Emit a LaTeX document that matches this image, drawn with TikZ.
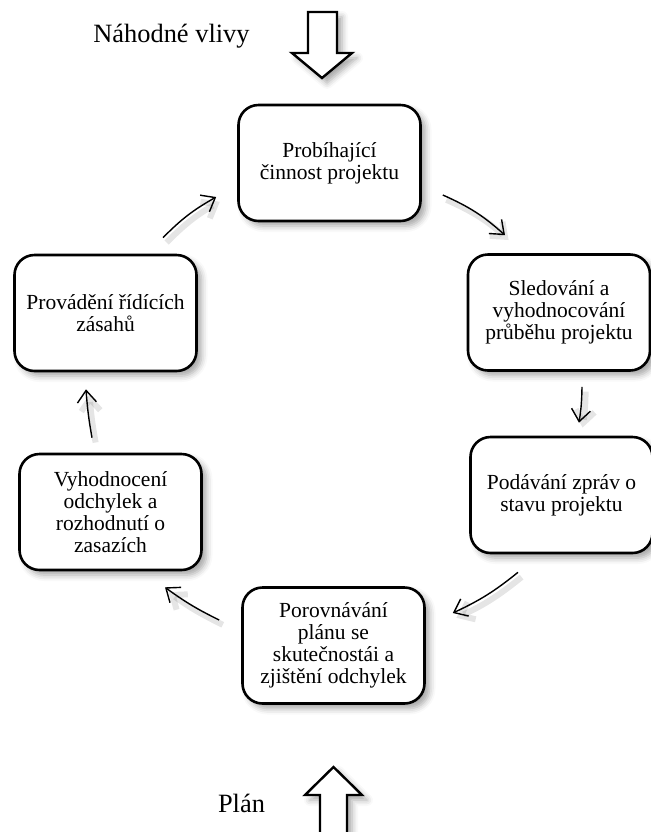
\documentclass[tikz,border=0pt]{standalone}
\usepackage{fontspec}
\setmainfont{Liberation Serif}
\usetikzlibrary{arrows.meta,shadows.blur}
\begin{document}
\begin{tikzpicture}[x=0.5pt,y=-0.5pt,
  softshadow/.style={blur shadow={shadow xshift=2.5pt,shadow yshift=-2.5pt,
      shadow opacity=35,shadow blur radius=3pt}},
  stage/.style={draw=black,line width=1.3pt,rounded corners=10pt,fill=white,
      align=center,inner sep=2pt,minimum width=91pt,minimum height=58pt,
      font=\fontsize{10.75}{10.9}\selectfont,softshadow},
  label/.style={anchor=base,font=\fontsize{13.2}{15}\selectfont},
  flow/.style={line width=0.7pt,-{Straight Barb[length=6pt,width=9.5pt]},
      preaction={draw=black,opacity=0.10,line width=3pt,
        transform canvas={shift={(1.8pt,-2.4pt)}}}},
  bigarrow/.style={draw=black,line width=1.2pt,fill=white,softshadow}
]
\useasboundingbox (0,0) rectangle (651,832);

% cycle stages
\node[stage] (b1) at (329.5,163)   {Probíhající\\činnost projektu};
\node[stage] (b2) at (559,312.5)   {Sledování a\\vyhodnocování\\průběhu projektu};
\node[stage] (b3) at (561.5,495)   {Podávání zpráv o\\stavu projektu};
\node[stage] (b4) at (333.5,645.5) {Porovnávání\\plánu se\\skutečnostái a\\zjištění odchylek};
\node[stage] (b5) at (110.5,512)   {Vyhodnocení\\odchylek a\\rozhodnutí o\\zasazích};
\node[stage] (b6) at (105.5,313)   {Provádění řídících\\zásahů};

% outer inputs
\node[label] (rnd) at (171.5,42) {Náhodné vlivy};
\node[label] (pln) at (241.5,812) {Plán};

\path[bigarrow] (308,12) -- (337,12) -- (337,53) -- (352,53) -- (322,78)
  -- (292,53) -- (308,53) -- cycle;
\path[bigarrow] (333.5,767) -- (362,795) -- (347,795) -- (347,840)
  -- (320,840) -- (320,795) -- (305,795) -- cycle;

% cycle connectors
\draw[flow] ([shift={(21,32)}]b1.east) to[bend left=9] ([shift={(-54,-18)}]b2.north);
\draw[flow] ([shift={(23,15)}]b2.south) to[bend left=4] ([shift={(17.5,-13)}]b3.north);
\draw[flow] ([shift={(-43.5,18)}]b3.south) to[bend left=7] ([shift={(27,-32.5)}]b4.east);
\draw[flow] ([shift={(-22,-25.5)}]b4.west) to[bend left=5] ([shift={(54.5,16)}]b5.south);
\draw[flow] ([shift={(-18.5,-15)}]b5.north) to[bend left=3] ([shift={(-19.5,17)}]b6.south);
\draw[flow] ([shift={(57.5,-16)}]b6.north) to[bend left=8] ([shift={(-21,34)}]b1.west);
\end{tikzpicture}
\end{document}
